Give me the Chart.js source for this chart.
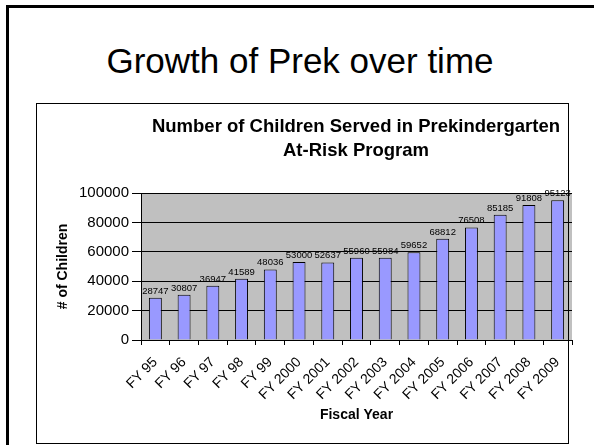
<!DOCTYPE html>
<html>
<head>
<meta charset="utf-8">
<script src="https://cdn.jsdelivr.net/npm/chart.js@4.4.1/dist/chart.umd.min.js"></script>
<style>
  html, body { margin: 0; padding: 0; background: #fff; overflow: hidden; }
  #page { position: relative; width: 594px; height: 445px; font-family: "Liberation Sans", Arial, sans-serif; }
  #slide { position: absolute; left: 6px; top: 5px; width: 700px; height: 600px; border: 3px solid #000; }
  #box { position: absolute; left: 36px; top: 103px; width: 531px; height: 339px; border: 1px solid #000; z-index: 2; pointer-events: none; }
  #heading { position: absolute; left: 0; top: 44px; width: 600px; text-align: center; font-size: 35px; line-height: 34px; color: #000; }
  #chartTitle { position: absolute; left: 106px; top: 114px; width: 500px; text-align: center; font-size: 18.5px; line-height: 24px; font-weight: bold; color: #000; z-index: 3; white-space: nowrap; }
  #wrap { position: absolute; left: 0; top: 0; width: 594px; height: 445px; z-index: 1; }
</style>
</head>
<body>
<div id="page">
  <div id="slide"></div>
  <div id="heading">Growth of Prek over time</div>
  <div id="wrap"><canvas id="prekChart"></canvas></div>
  <div id="box"></div>
  <div id="chartTitle">Number of Children Served in Prekindergarten<br>At-Risk Program</div>
</div>
<script>
// Datos del gráfico
const fiscalYears = ['FY 95', 'FY 96', 'FY 97', 'FY 98', 'FY 99', 'FY 2000', 'FY 2001', 'FY 2002',
  'FY 2003', 'FY 2004', 'FY 2005', 'FY 2006', 'FY 2007', 'FY 2008', 'FY 2009'];
const childrenServed = [28747, 30807, 36947, 41589, 48036, 53000, 52637, 55960,
  55984, 59652, 68812, 76508, 85185, 91808, 95123];
const yTicks = [0, 20000, 40000, 60000, 80000, 100000];

const font = "'Liberation Sans', Arial, sans-serif";

// fondo gris del área de trazado
const plotBackground = {
  id: 'plotBackground',
  beforeDraw(chart) {
    const a = chart.chartArea;
    const ctx = chart.ctx;
    ctx.save();
    ctx.fillStyle = '#c0c0c0';
    ctx.fillRect(a.left, a.top, a.right - a.left, a.bottom - a.top);
    ctx.restore();
  }
};

// etiquetas de valor encima de cada barra
const valueLabels = {
  id: 'valueLabels',
  afterDatasetsDraw(chart) {
    const ctx = chart.ctx;
    const meta = chart.getDatasetMeta(0);
    ctx.save();
    ctx.font = '9.5px ' + font;
    ctx.fillStyle = '#000';
    ctx.textAlign = 'center';
    ctx.textBaseline = 'bottom';
    meta.data.forEach((bar, i) => {
      ctx.fillText(String(childrenServed[i]), bar.x, bar.y - 2);
    });
    ctx.restore();
  }
};

const ctx = document.getElementById('prekChart').getContext('2d');
const prekChart = new Chart(ctx, {
  type: 'bar',
  data: {
    labels: fiscalYears,
    datasets: [{
      label: 'Number of Children',
      data: childrenServed,
      backgroundColor: '#9999ff',
      borderColor: '#000',
      borderWidth: 1,
      barPercentage: 0.45,
      categoryPercentage: 1
    }]
  },
  options: {
    responsive: true,
    maintainAspectRatio: false,
    animation: false,
    layout: { padding: { left: 50, right: 22, top: 193, bottom: 17 } },
    plugins: {
      legend: { display: false },
      tooltip: { enabled: false }
    },
    scales: {
      x: {
        afterFit(scale) { scale.height = 88; },
        grid: { drawOnChartArea: false, drawTicks: true, tickLength: 5, color: '#000', offset: true },
        border: { display: true, color: '#000', width: 1 },
        ticks: {
          minRotation: 45, maxRotation: 45, color: '#000', padding: 9,
          font: { family: font, size: 14 }
        },
        title: {
          display: true, text: 'Fiscal Year', color: '#000',
          font: { family: font, size: 14, weight: 'bold' }, padding: { top: 0, bottom: 4 }
        }
      },
      y: {
        min: 0,
        max: 100000,
        afterFit(scale) { scale.width = 91; },
        afterBuildTicks(scale) { scale.ticks = yTicks.map(v => ({ value: v })); },
        grid: { color: '#000', tickLength: 9, lineWidth: 1 },
        border: { display: true, color: '#000', width: 1 },
        ticks: {
          color: '#000', padding: 3,
          font: { family: font, size: 15 },
          callback: v => String(v)
        },
        title: {
          display: true, text: '# of Children', color: '#000',
          font: { family: font, size: 14, weight: 'bold' }, padding: { top: 5, bottom: 0 }
        }
      }
    }
  },
  plugins: [plotBackground, valueLabels]
});
</script>
</body>
</html>
